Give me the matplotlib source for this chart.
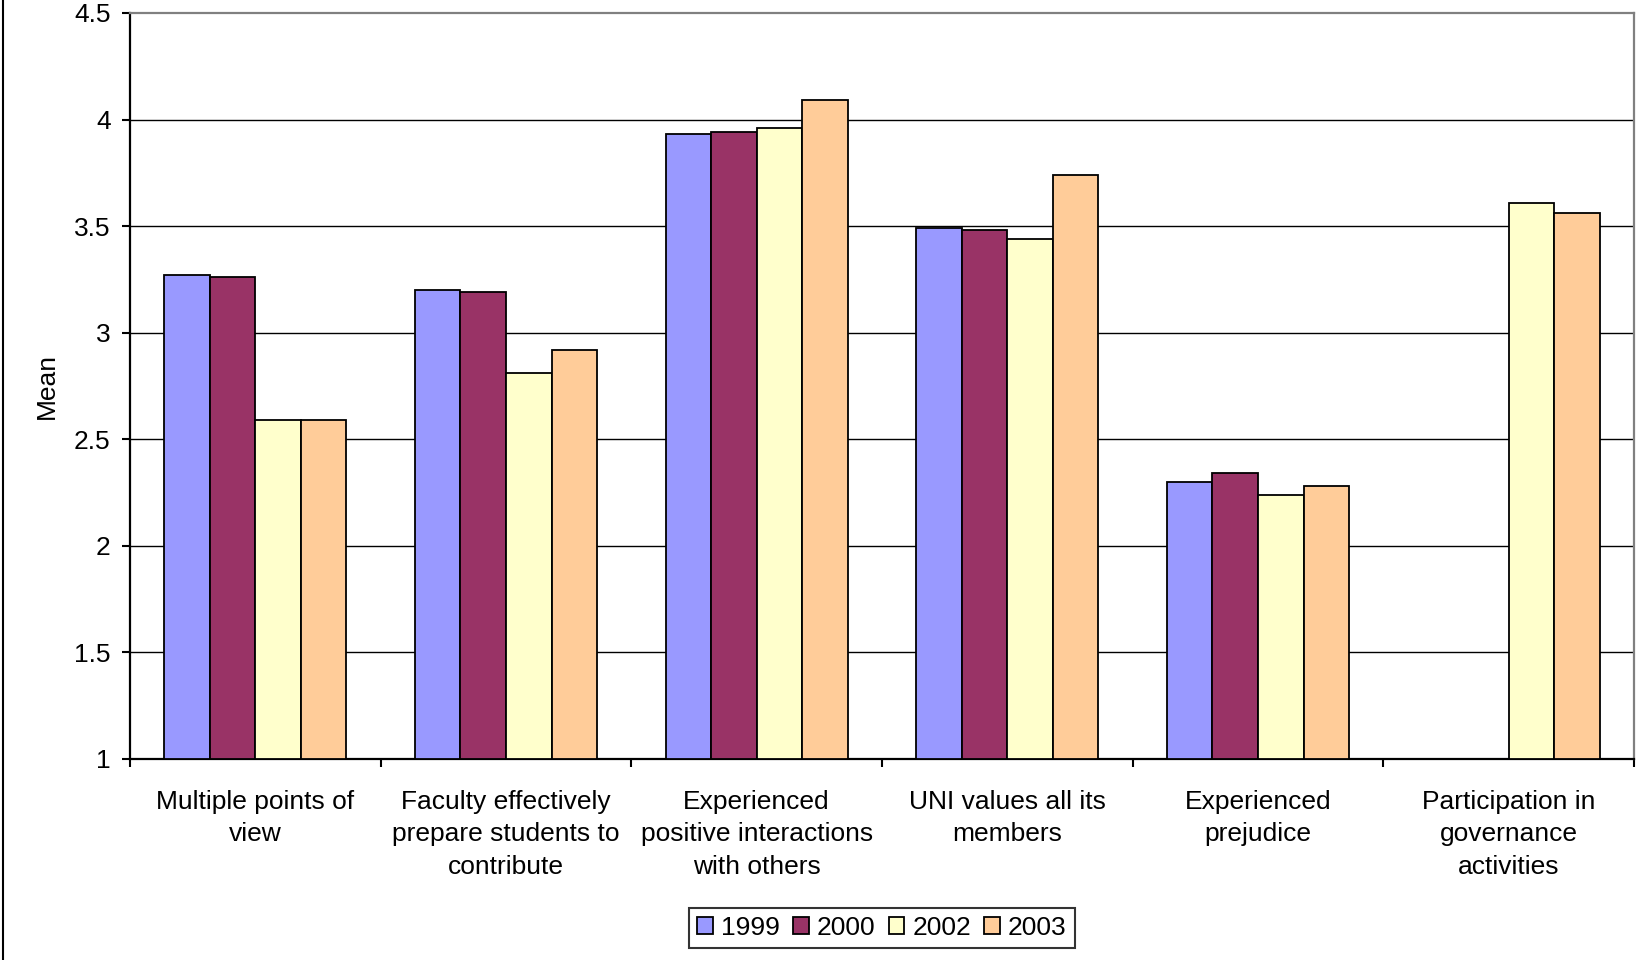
import matplotlib
matplotlib.use("Agg")
import matplotlib.pyplot as plt
import numpy as np
from matplotlib.lines import Line2D

plt.rcParams['font.family'] = ['Liberation Sans', 'DejaVu Sans']

categories = [
    "Multiple points of\nview",
    "Faculty effectively\nprepare students to\ncontribute",
    "Experienced\npositive interactions\nwith others",
    "UNI values all its\nmembers",
    "Experienced\nprejudice",
    "Participation in\ngovernance\nactivities",
]
series_names = ["1999", "2000", "2002", "2003"]
v1999 = [3.27, 3.20, 3.93, 3.49, 2.30, np.nan]
v2000 = [3.26, 3.19, 3.94, 3.48, 2.34, np.nan]
v2002 = [2.59, 2.81, 3.96, 3.44, 2.24, 3.61]
v2003 = [2.59, 2.92, 4.09, 3.74, 2.28, 3.56]
series_values = [v1999, v2000, v2002, v2003]
colors = ["#9999FF", "#993366", "#FFFFCC", "#FFCC99"]
yticks = [1, 1.5, 2, 2.5, 3, 3.5, 4, 4.5]
ytick_labels = ["1", "1.5", "2", "2.5", "3", "3.5", "4", "4.5"]

fig = plt.figure(figsize=(16.36, 9.6), dpi=100)
L, R, T, B = 130, 1634, 13, 759
ax = fig.add_axes([L/1636, 1-B/960, (R-L)/1636, (B-T)/960])

n = len(categories)
x = np.arange(n)
w = 1/5.5
FS = 19
for i, (vals, c, name) in enumerate(zip(series_values, colors, series_names)):
    offs = (i - 1.5) * w
    b = np.array(vals, dtype=float)
    ax.bar(x + offs, b - 1, width=w, bottom=1, color=c, edgecolor="black",
           linewidth=1.3, label=name, zorder=3)

ax.set_xlim(-0.5, n - 0.5)
ax.set_ylim(1, 4.5)
ax.set_yticks(yticks)
ax.set_yticklabels(ytick_labels, fontsize=FS)
for yv in yticks[1:-1]:
    ax.axhline(yv, color="black", linewidth=1.0, zorder=1)

ax.set_xticks(np.arange(-0.5, n, 1.0))
ax.set_xticklabels([])
ax.set_xticks(x, minor=True)
ax.set_xticklabels(categories, minor=True, fontsize=FS, linespacing=1.47)
ax.tick_params(axis="x", which="major", length=6, width=1.5, direction="out", color="black")
ax.tick_params(axis="x", which="minor", length=0, pad=22)
ax.tick_params(axis="y", length=6, width=1.5, direction="out", pad=8)

for s in ["left", "bottom"]:
    ax.spines[s].set_color("black")
    ax.spines[s].set_linewidth(1.6)
for s in ["top", "right"]:
    ax.spines[s].set_color("#808080")
    ax.spines[s].set_linewidth(1.6)

ax.set_ylabel("Mean", fontsize=FS)
ax.yaxis.set_label_coords(-0.047, 0.5)

leg = fig.legend(loc="center", bbox_to_anchor=(882/1636, 1-928/960), ncol=4,
                 fontsize=FS, frameon=True, fancybox=False, edgecolor="black",
                 handlelength=0.6, handleheight=0.6, handletextpad=0.3,
                 columnspacing=0.5, borderpad=0.3, borderaxespad=0)
leg.get_frame().set_linewidth(1.5)

fig.add_artist(Line2D([2.5/1636, 2.5/1636], [0, 1], color="black", linewidth=1.5,
                      transform=fig.transFigure))

fig.savefig("out.png", dpi=100, facecolor="white")
